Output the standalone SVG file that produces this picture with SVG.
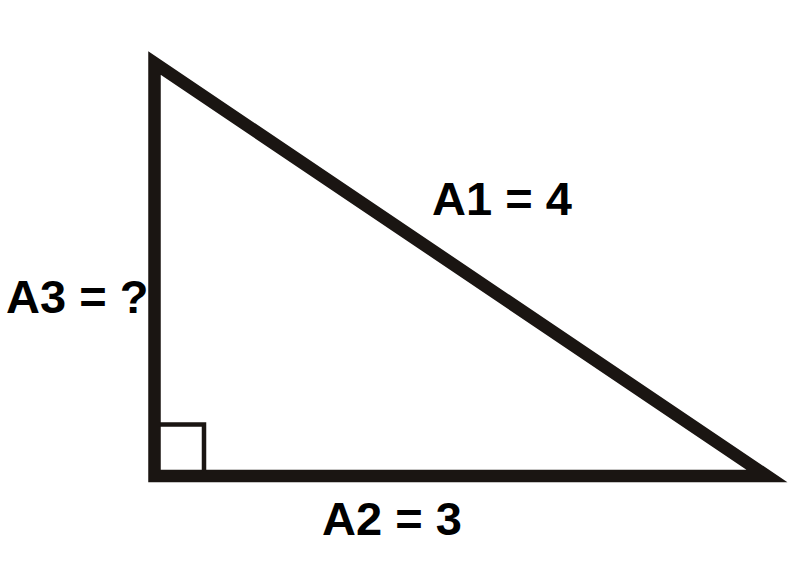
<svg xmlns="http://www.w3.org/2000/svg" width="800" height="573" viewBox="0 0 800 573">
<style>
.edge{fill:none;stroke:#1a1512;stroke-width:12.5;stroke-linejoin:miter;stroke-miterlimit:10}
.mark{fill:none;stroke:#1a1512;stroke-width:4.5}
.lbl{font-family:"Liberation Sans",Arial,sans-serif;font-weight:bold;font-size:47px;fill:#000}
</style>
<rect width="800" height="573" fill="#fff"/>
<g id="triangle">
<polygon class="edge" points="154.5,63 154.5,476 767,476"/>
<polyline class="mark" points="159,424.5 204,424.5 204,472"/>
</g>
<g id="connectors"></g>
<g id="label-a1"><text class="lbl" x="432" y="215">A1 = 4</text></g>
<g id="label-a3"><text class="lbl" x="6" y="313">A3 = ?</text></g>
<g id="label-a2"><text class="lbl" x="322" y="535">A2 = 3</text></g>
</svg>
